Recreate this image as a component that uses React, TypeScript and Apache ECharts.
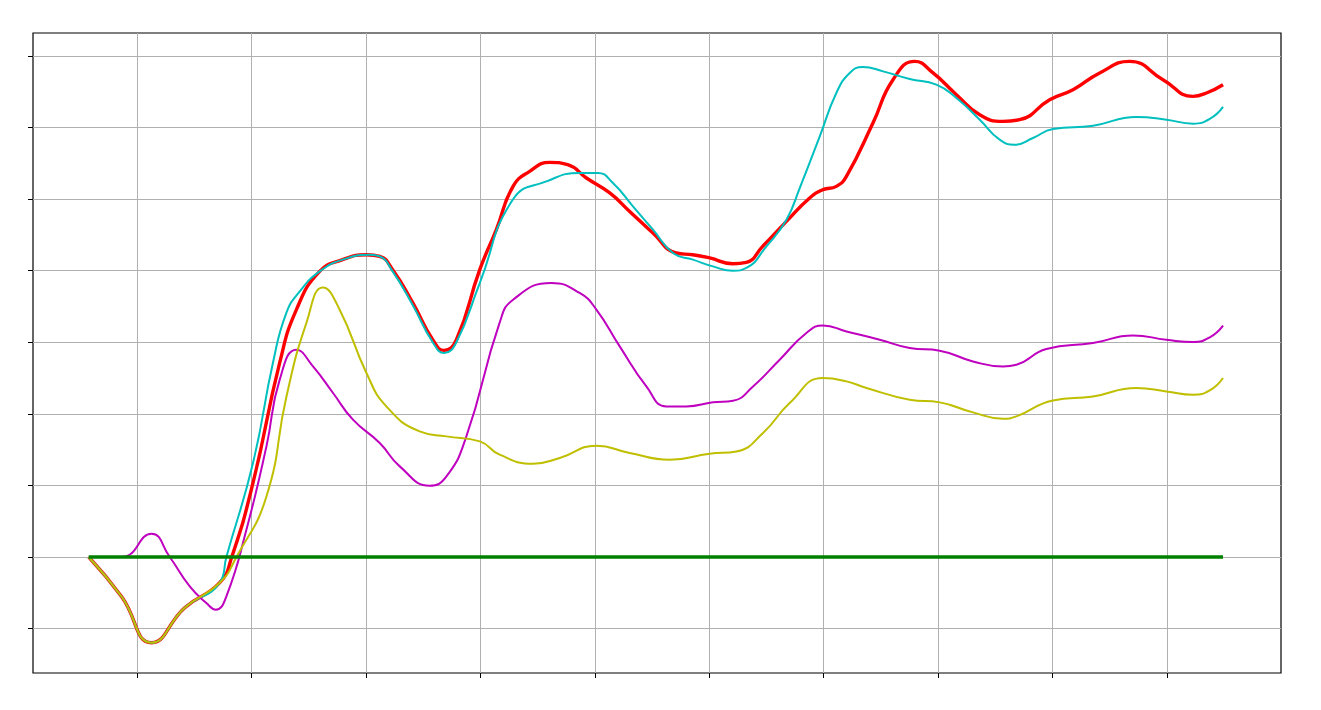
import React, { useEffect, useRef } from "react";
import * as echarts from "echarts";

// x in months (ticks at 0..9), y in percent (ticks every 10)
const xTicks = [0, 1, 2, 3, 4, 5, 6, 7, 8, 9];
const yTicks = [-10, 0, 10, 20, 30, 40, 50, 60, 70];

const redX = [-0.422, -0.134, 0.128, 0.417, 0.723, 0.828, 1.014, 1.247, 1.393, 1.596, 1.797, 2.005, 2.121, 2.234, 2.409, 2.584, 2.683, 2.791, 2.995, 3.14, 3.286, 3.431, 3.606, 3.763, 3.927, 4.131, 4.305, 4.506, 4.713, 4.856, 5.004, 5.205, 5.325, 5.467, 5.675, 5.878, 5.994, 6.111, 6.199, 6.431, 6.606, 6.796, 6.956, 7.16, 7.364, 7.567, 7.713, 7.975, 8.179, 8.412, 8.674, 8.965, 9.228, 9.345, 9.49];
const redY = [0, -5.55, -11.97, -7.08, -3.59, 0, 10.38, 27.14, 34.56, 39.89, 41.53, 42.22, 41.99, 40.13, 35.52, 30.35, 28.86, 30.35, 40.13, 45.72, 51.77, 53.86, 55.12, 54.8, 52.94, 50.85, 48.27, 45.3, 42.46, 42.22, 41.77, 40.97, 41.15, 43.39, 46.88, 50.15, 51.31, 51.77, 53.16, 60.62, 66.67, 69.23, 67.61, 64.58, 61.78, 60.85, 61.08, 63.88, 65.27, 67.61, 69.23, 66.67, 64.34, 64.81, 65.97];

const cyanX = [-0.422, -0.134, 0.128, 0.417, 0.723, 0.781, 1.014, 1.188, 1.306, 1.422, 1.596, 1.797, 2.033, 2.121, 2.234, 2.409, 2.584, 2.683, 2.791, 2.995, 3.286, 3.577, 3.868, 4.026, 4.159, 4.334, 4.509, 4.684, 4.858, 5.033, 5.208, 5.325, 5.5, 5.675, 5.791, 5.966, 6.111, 6.228, 6.344, 6.519, 6.752, 6.985, 7.16, 7.364, 7.538, 7.669, 7.829, 8.004, 8.354, 8.733, 8.995, 9.228, 9.374, 9.49];
const cyanY = [0, -5.55, -11.97, -7.08, -3.59, 0, 13.17, 27.14, 34.13, 37.1, 39.89, 41.53, 42.22, 41.99, 39.9, 35.2, 30.0, 28.5, 30.0, 38.27, 49.97, 52.46, 53.64, 53.64, 52.24, 48.97, 45.72, 42.46, 41.53, 40.59, 39.99, 40.37, 43.39, 47.12, 51.54, 58.75, 64.81, 67.61, 68.45, 67.83, 66.77, 65.97, 64.11, 61.08, 58.29, 57.59, 58.53, 59.78, 60.25, 61.46, 61.08, 60.53, 61.18, 62.86];

const magentaX = [-0.422, -0.134, 0.126, 0.286, 0.461, 0.606, 0.688, 0.781, 0.956, 1.131, 1.247, 1.393, 1.538, 1.713, 1.887, 2.121, 2.296, 2.557, 2.704, 2.878, 3.169, 3.286, 3.621, 3.868, 4.014, 4.218, 4.451, 4.626, 4.801, 5.033, 5.208, 5.383, 5.616, 5.849, 5.994, 6.199, 6.49, 6.752, 7.014, 7.305, 7.567, 7.684, 7.946, 8.354, 8.703, 8.995, 9.228, 9.374, 9.49];
const magentaY = [0, 0, 3.25, 0, -4.11, -6.43, -7.36, -5.5, 3.81, 15.45, 24.77, 28.96, 26.62, 22.91, 19.18, 15.92, 12.66, 9.96, 11.26, 16.85, 32.73, 35.94, 38.27, 36.88, 34.56, 29.42, 23.83, 21.04, 21.04, 21.6, 21.83, 23.83, 27.56, 31.29, 32.35, 31.51, 30.35, 29.19, 28.82, 27.32, 26.62, 26.86, 29.05, 29.89, 30.95, 30.35, 30.03, 30.67, 32.31];

const yellowX = [-0.422, -0.134, 0.128, 0.417, 0.723, 0.869, 1.131, 1.306, 1.48, 1.625, 1.771, 2.005, 2.179, 2.47, 2.704, 2.995, 3.169, 3.46, 3.694, 4.014, 4.305, 4.655, 5.004, 5.238, 5.47, 5.703, 5.994, 6.199, 6.374, 6.752, 7.014, 7.305, 7.567, 7.684, 8.004, 8.354, 8.733, 8.995, 9.228, 9.374, 9.49];
const yellowY = [0, -5.55, -11.97, -7.08, -3.59, 0, 8.46, 22.43, 32.69, 37.66, 34.54, 25.7, 21.04, 17.54, 16.85, 16.15, 14.29, 13.03, 13.83, 15.55, 14.53, 13.59, 14.43, 14.75, 17.32, 21.51, 25.0, 24.53, 23.61, 21.97, 21.6, 20.2, 19.32, 19.64, 21.87, 22.43, 23.61, 23.13, 22.67, 23.27, 25.0];

const greenX = [-0.422, 9.49];
const greenY = [0, 0];

const zip = (xs: number[], ys: number[]) => xs.map((x, i) => [x, ys[i]]);

export default function App() {
  const ref = useRef<HTMLDivElement>(null);
  useEffect(() => {
    if (!ref.current) return;
    const chart = echarts.init(ref.current, null, { renderer: "svg" });
    const line = (data: number[][], color: string, width: number) => ({
      type: "line",
      data,
      smooth: 0.5,
      symbol: "none",
      showSymbol: false,
      lineStyle: { color, width },
      itemStyle: { color },
    });
    const axisCommon = (ticks: number[]) => ({
      axisLine: { show: false, onZero: false },
      axisLabel: { show: false, customValues: ticks },
      axisTick: {
        show: true,
        inside: false,
        length: 5,
        customValues: ticks,
        lineStyle: { color: "#000000", width: 1 },
      },
      splitLine: { show: true, lineStyle: { color: "#b0b0b0", width: 1 } },
    });
    chart.setOption({
      animation: false,
      backgroundColor: "#ffffff",
      grid: {
        left: 33,
        top: 33,
        width: 1248,
        height: 640,
        show: true,
        borderColor: "#000000",
        borderWidth: 1.2,
        containLabel: false,
      },
      xAxis: {
        type: "value",
        position: "bottom",
        min: -0.9088,
        max: 9.9965,
        ...axisCommon(xTicks),
      },
      yAxis: {
        type: "value",
        position: "left",
        min: -16.2,
        max: 73.19,
        ...axisCommon(yTicks),
      },
      series: [
        line(zip(redX, redY), "#ff0000", 3.4),
        line(zip(cyanX, cyanY), "#00bfbf", 2),
        line(zip(magentaX, magentaY), "#bf00bf", 2),
        line(zip(yellowX, yellowY), "#bfbf00", 2),
        line(zip(greenX, greenY), "#008000", 3.6),
      ],
    });
    return () => chart.dispose();
  }, []);
  return (
    <div
      ref={ref}
      style={{ position: "fixed", left: 0, top: 0, width: 1321, height: 710 }}
    />
  );
}
